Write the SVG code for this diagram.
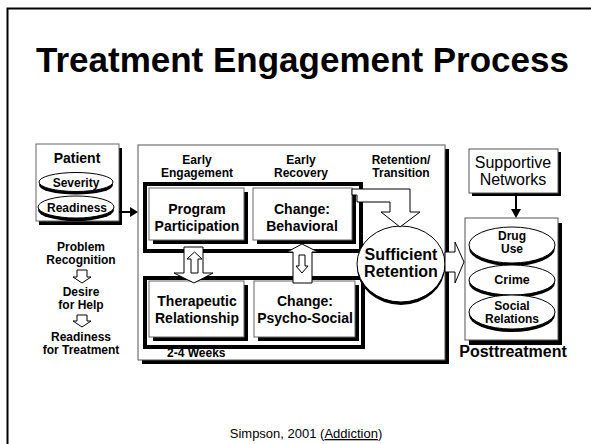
<svg xmlns="http://www.w3.org/2000/svg" width="591" height="444" viewBox="0 0 591 444">
<style>
text{font-family:"Liberation Sans",Arial,sans-serif;fill:#000}
.b{font-weight:bold}
.c{text-anchor:middle}
.face{fill:#fff;stroke:#666;stroke-width:1}
.sh{fill:#000}
.hol{fill:#fff;stroke:#000;stroke-width:1}
.grp{fill:none;stroke:#000;stroke-width:4}
</style>
<rect x="0" y="0" width="591" height="444" fill="#fff"/>
<path d="M7.5 444 V8.5 H591" fill="none" stroke="#000" stroke-width="2"/>
<text x="36" y="72" class="b" font-size="35">Treatment Engagement Process</text>

<g id="patient">
<rect x="39" y="148" width="83" height="77" class="sh"/>
<rect x="36" y="144" width="83" height="77" class="face"/>
<text x="77" y="163" class="b c" font-size="14">Patient</text>
<ellipse cx="76" cy="185" rx="37" ry="9.5" class="sh"/>
<ellipse cx="76" cy="182" rx="37" ry="9.5" class="hol"/>
<text x="76" y="187" class="b c" font-size="12">Severity</text>
<ellipse cx="76" cy="210" rx="38" ry="11" class="sh"/>
<ellipse cx="76" cy="207" rx="38" ry="11" class="hol"/>
<text x="77" y="212" class="b c" font-size="12">Readiness</text>
</g>

<g id="stages" class="b c" font-size="12">
<text x="81" y="251">Problem</text>
<text x="81" y="264">Recognition</text>
<text x="81" y="296">Desire</text>
<text x="81" y="309">for Help</text>
<text x="81" y="341">Readiness</text>
<text x="81" y="354">for Treatment</text>
</g>

<g id="treatment">
<rect x="142" y="149" width="307" height="215" class="sh"/>
<rect x="138" y="145" width="307" height="215" fill="#fff" stroke="#555" stroke-width="1"/>
<text x="197" y="164" class="b c" font-size="12">Early</text>
<text x="197" y="177" class="b c" font-size="12">Engagement</text>
<text x="301" y="164" class="b c" font-size="12">Early</text>
<text x="301" y="177" class="b c" font-size="12">Recovery</text>
<text x="401" y="164" class="b c" font-size="12">Retention/</text>
<text x="401" y="177" class="b c" font-size="12">Transition</text>
<rect x="145" y="184" width="216" height="67" class="grp"/>
<rect x="145" y="278" width="218" height="69" class="grp"/>
<text x="167" y="357" class="b" font-size="12">2-4 Weeks</text>
</g>

<g id="program">
<rect x="153" y="192" width="95" height="52" class="sh"/>
<rect x="149" y="188" width="95" height="52" class="face"/>
<text x="197" y="214" class="b c" font-size="14">Program</text>
<text x="197" y="231" class="b c" font-size="14">Participation</text>
</g>
<g id="behavioral">
<rect x="257" y="192" width="99" height="52" class="sh"/>
<rect x="253" y="188" width="99" height="52" class="face"/>
<text x="302" y="214" class="b c" font-size="14">Change:</text>
<text x="302" y="231" class="b c" font-size="14">Behavioral</text>
</g>
<g id="therapeutic">
<rect x="153" y="285" width="95" height="56" class="sh"/>
<rect x="149" y="281" width="95" height="56" class="face"/>
<text x="197" y="306" class="b c" font-size="14">Therapeutic</text>
<text x="197" y="323" class="b c" font-size="14">Relationship</text>
</g>
<g id="psychosocial">
<rect x="258" y="285" width="101" height="56" class="sh"/>
<rect x="254" y="281" width="101" height="56" class="face"/>
<text x="305" y="306" class="b c" font-size="14">Change:</text>
<text x="305" y="323" class="b c" font-size="14">Psycho-Social</text>
</g>

<g id="retention">
<ellipse cx="401" cy="267" rx="44" ry="38" class="sh"/>
<ellipse cx="401" cy="264" rx="44" ry="38" class="hol"/>
<text x="401" y="260" class="b c" font-size="16">Sufficient</text>
<text x="401" y="277" class="b c" font-size="16">Retention</text>
</g>

<g id="supportive">
<rect x="472" y="152" width="89" height="44" class="sh"/>
<rect x="469" y="149" width="89" height="44" fill="#fff" stroke="#555" stroke-width="1"/>
<text x="513" y="168" class="c" font-size="16">Supportive</text>
<text x="513" y="185" class="c" font-size="16">Networks</text>
</g>

<g id="posttreatment">
<rect x="469" y="223" width="93" height="122" class="sh"/>
<rect x="465" y="218" width="93" height="122" fill="#fff" stroke="#555" stroke-width="1"/>
<ellipse cx="512" cy="248" rx="43" ry="18" class="sh"/>
<ellipse cx="512" cy="245" rx="43" ry="18" class="hol"/>
<text x="512" y="240" class="b c" font-size="12">Drug</text>
<text x="512" y="253" class="b c" font-size="12">Use</text>
<ellipse cx="512" cy="283" rx="43" ry="15" class="sh"/>
<ellipse cx="512" cy="280" rx="43" ry="15" class="hol"/>
<text x="512" y="284" class="b c" font-size="12.5">Crime</text>
<ellipse cx="512" cy="315" rx="43" ry="17" class="sh"/>
<ellipse cx="512" cy="312" rx="43" ry="17" class="hol"/>
<text x="512" y="310" class="b c" font-size="12">Social</text>
<text x="512" y="323" class="b c" font-size="12">Relations</text>
<text x="513" y="357" class="b c" font-size="16">Posttreatment</text>
</g>

<g id="connectors">
<path d="M119 212 H131" stroke="#000" stroke-width="2"/>
<polygon points="130,207 138,212 130,217" fill="#000"/>
<path d="M516 193 V210" stroke="#000" stroke-width="2"/>
<polygon points="511,209 516,218 521,209" fill="#000"/>
<polygon points="77,270 87,270 87,277 91,277 82,283 73,277 77,277" class="hol"/>
<polygon points="77,315 87,315 87,321 91,321 82,327 73,321 77,321" class="hol"/>
<polygon points="184,247 203,247 203,273 213,273 194,283 174,273 184,273" class="hol"/>
<polygon points="191,273 198,273 198,259 202,259 194.5,252 187,259 191,259" class="hol"/>
<polygon points="302,244 318,252 312,252 312,283 293,283 293,252 287,252" class="hol"/>
<polygon points="299,255 305,255 305,266 308,266 302,273 296,266 299,266" class="hol"/>
<polygon points="352,189 410,189 410,212 420,212 400,227 381,212 390,212 390,202 357,202 357,195 352,195" class="hol"/>
<polygon points="445,252 455,252 455,242 464,262 455,283 455,272 445,272" class="hol"/>
</g>

<g id="citation">
<text x="306" y="438" class="c" font-size="13">Simpson, 2001 (<tspan text-decoration="underline">Addiction</tspan>)</text>
</g>
</svg>
